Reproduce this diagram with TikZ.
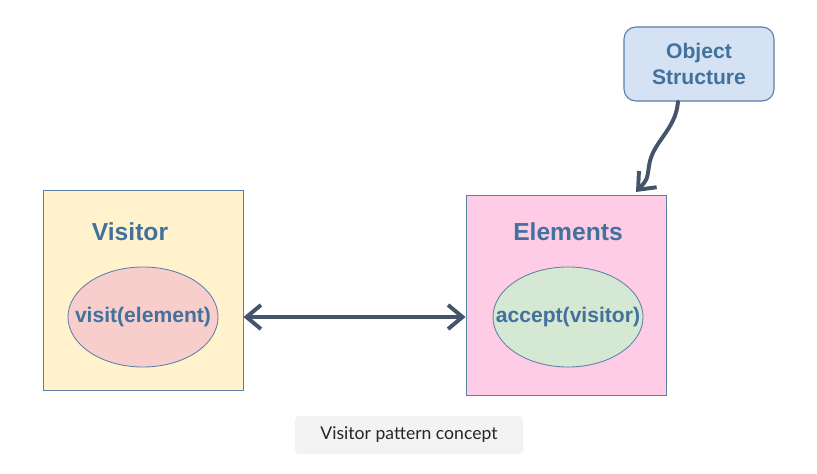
\documentclass[tikz,border=0pt]{standalone}
\usepackage{fontspec}
\setmainfont{Liberation Sans}
\newfontfamily\capfont{Lato}
\usetikzlibrary{shapes.geometric, arrows.meta, positioning}

\definecolor{titleblue}{HTML}{41719C}
\definecolor{edgeblue}{HTML}{5A80A8}
\definecolor{arrowgray}{HTML}{44546A}
\definecolor{visitorfill}{HTML}{FFF2CC}
\definecolor{elemfill}{HTML}{FFCCE6}
\definecolor{visitfill}{HTML}{F8CECC}
\definecolor{acceptfill}{HTML}{D5E8D4}
\definecolor{structfill}{HTML}{D4E2F4}
\definecolor{capfill}{HTML}{F3F3F3}

\begin{document}
\begin{tikzpicture}[
    x=0.025cm, y=-0.025cm,
    box/.style={rectangle, minimum width=5cm, minimum height=5cm, draw=edgeblue, line width=0.6pt},
    title/.style={text=titleblue, font=\fontsize{17.5}{20}\selectfont\bfseries},
    method/.style={ellipse, minimum width=3.75cm, minimum height=2.5cm, inner sep=0pt, draw=edgeblue, line width=0.6pt},
    mtext/.style={text=titleblue, font=\fontsize{15}{18}\selectfont\bfseries},
    struct/.style={rectangle, rounded corners=0.3cm, minimum width=3.75cm, minimum height=1.85cm, text centered, align=center, draw=edgeblue, line width=0.8pt, fill=structfill, text=titleblue, font=\fontsize{15}{18}\selectfont\bfseries},
    caption/.style={rectangle, rounded corners=0.1cm, minimum width=5.7cm, minimum height=0.95cm, fill=capfill, font=\capfont\fontsize{12.5}{15}\selectfont, text=black!85},
    arrow/.style={{Straight Barb[length=3.6mm, width=6mm]}-{Straight Barb[length=3.6mm, width=6mm]}, line width=2.8pt, draw=arrowgray, line cap=round}
]
\useasboundingbox (0,0) rectangle (817,474);

% Visitor
\node[box, fill=visitorfill] (visitor) at (143,290.5) {};
\node[title] (vtitle) at (130,232) {Visitor};
\node[method, fill=visitfill, label={[mtext]center:visit(element)}] (visit) at (143,317) {};

% Elements
\node[box, fill=elemfill] (elements) at (566,295) {};
\node[title] (etitle) at (568,232) {Elements};
\node[method, fill=acceptfill, label={[mtext]center:accept(visitor)}] (accept) at (568,317) {};

% Object structure
\node[struct] (objstruct) at (699,64) {Object\\Structure};

% Caption
\node[caption] (cap) at (409,435) {Visitor pattern concept};

% Arrows
\draw[arrow] (visitor.east |- visit) -- (elements.west |- visit);
\coordinate (tip) at (636,192);
\draw[arrow, arrows={-}, -{Straight Barb[length=3.6mm, width=6mm]}] (objstruct.south -| 678,0) .. controls (676,130) and (652,142) .. (649,166) .. controls (647,180) .. (tip);

\end{tikzpicture}
\end{document}
